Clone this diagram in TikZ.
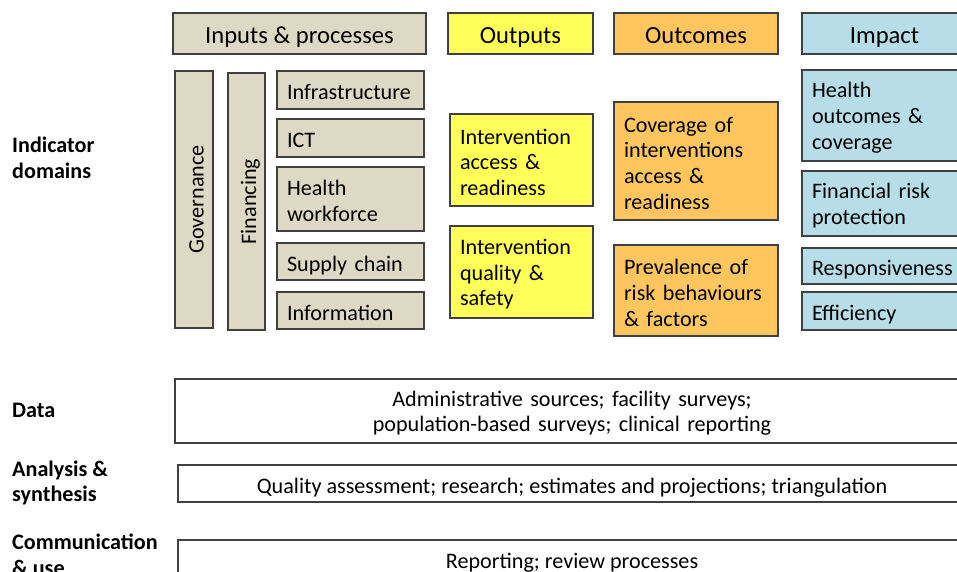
\documentclass[tikz,border=0pt]{standalone}
\usepackage{fontspec}
\setmainfont{Carlito}
\usepackage{xcolor}
\usetikzlibrary{positioning}

\definecolor{inputtan}{RGB}{221,217,196}
\definecolor{outputyellow}{RGB}{255,255,90}
\definecolor{outcomeorange}{RGB}{255,198,95}
\definecolor{impactblue}{RGB}{183,222,232}
\definecolor{edgegray}{RGB}{64,64,64}

\begin{document}
\begin{tikzpicture}[
    box/.style={draw=edgegray, line width=0.7pt, rectangle, inner sep=0pt,
      text height=11.3pt, font=\fontsize{12.6}{14.7}\selectfont},
    oneline/.style={text depth=0.3pt},
    head/.style={box, text height=11.6pt, text depth=0.4pt, font=\fontsize{14}{16}\selectfont},
    item/.style={box, inner xsep=0.2cm, align=left},
    rowlabel/.style={anchor=west, align=left, font=\fontsize{12.6}{14.7}\selectfont\bfseries},
  ]

      \useasboundingbox (0, 0) rectangle (19.14, -11.44);

      % column headers
      \node[head, fill=inputtan, minimum width=5.06cm, minimum height=0.82cm] (inputs) at (5.99, -0.67) {Inputs \& processes};
      \node[head, fill=outputyellow, minimum width=2.90cm, minimum height=0.82cm] (outputs) at (10.41, -0.67) {Outputs};
      \node[head, fill=outcomeorange, minimum width=3.28cm, minimum height=0.82cm] (outcomes) at (13.92, -0.67) {Outcomes};
      \node[head, fill=impactblue, minimum width=3.30cm, minimum height=0.82cm] (impact) at (17.69, -0.67) {Impact};

      % inputs & processes
      \node[box, oneline, fill=inputtan, rotate=90, minimum width=5.14cm, minimum height=0.76cm] (governance) at (3.88, -3.99) {Governance};
      \node[box, oneline, fill=inputtan, rotate=90, minimum width=5.14cm, minimum height=0.74cm] (financing) at (4.93, -4.03) {Financing};
      \node[item, oneline, fill=inputtan, text width=2.54cm, minimum height=0.76cm] (infra) at (7.01, -1.80) {Infrastructure};
      \node[item, oneline, fill=inputtan, text width=2.54cm, minimum height=0.76cm] (ict) at (7.01, -2.76) {ICT};
      \node[item, fill=inputtan, text width=2.54cm, minimum height=1.28cm] (workforce) at (7.01, -3.98) {Health\\workforce};
      \node[item, oneline, fill=inputtan, text width=2.54cm, minimum height=0.74cm] (supply) at (7.01, -5.23) {Supply chain};
      \node[item, oneline, fill=inputtan, text width=2.54cm, minimum height=0.74cm] (information) at (7.01, -6.21) {Information};

      % outputs
      \node[item, fill=outputyellow, text width=2.46cm, minimum height=1.84cm] (access) at (10.43, -3.20) {Intervention\\access \&\\readiness};
      \node[item, fill=outputyellow, text width=2.46cm, minimum height=1.84cm] (quality) at (10.43, -5.44) {Intervention\\quality \&\\safety};

      % outcomes
      \node[item, fill=outcomeorange, text width=2.88cm, minimum height=2.36cm] (coverage) at (13.92, -3.22) {Coverage of\\interventions\\access \&\\readiness};
      \node[item, fill=outcomeorange, text width=2.88cm, minimum height=1.82cm] (prevalence) at (13.92, -5.81) {Prevalence of\\risk behaviours\\\& factors};

      % impact
      \node[item, fill=impactblue, text width=2.90cm, minimum height=1.82cm] (healthout) at (17.69, -2.31) {Health\\outcomes \&\\coverage};
      \node[item, fill=impactblue, text width=2.90cm, minimum height=1.30cm] (finrisk) at (17.69, -4.07) {Financial risk\\protection};
      \node[item, oneline, fill=impactblue, text width=2.90cm, minimum height=0.72cm] (respons) at (17.69, -5.32) {Responsiveness};
      \node[item, oneline, fill=impactblue, text width=2.90cm, minimum height=0.76cm] (efficiency) at (17.69, -6.22) {Efficiency};

      % data, analysis, use
      \node[box, fill=white, align=center, text width=15.88cm, minimum height=1.28cm] (data) at (11.44, -8.22) {Administrative sources; facility surveys;\\population-based surveys; clinical reporting};
      \node[box, oneline, fill=white, minimum width=15.76cm, minimum height=0.74cm] (analysis) at (11.44, -9.67) {Quality assessment; research; estimates and projections; triangulation};
      \node[box, oneline, fill=white, minimum width=15.76cm, minimum height=0.76cm] (comm) at (11.44, -11.18) {Reporting; review processes};

      % row labels
      \node[rowlabel] (domainslbl) at (0.12, -3.16) {Indicator\\domains};
      \node[rowlabel] (datalbl) at (0.12, -8.20) {Data};
      \node[rowlabel] (analysislbl) at (0.12, -9.66) {Analysis \&\\synthesis};
      \node[rowlabel] (commlbl) at (0.12, -11.10) {Communication\\\& use};

    \end{tikzpicture}
\end{document}
